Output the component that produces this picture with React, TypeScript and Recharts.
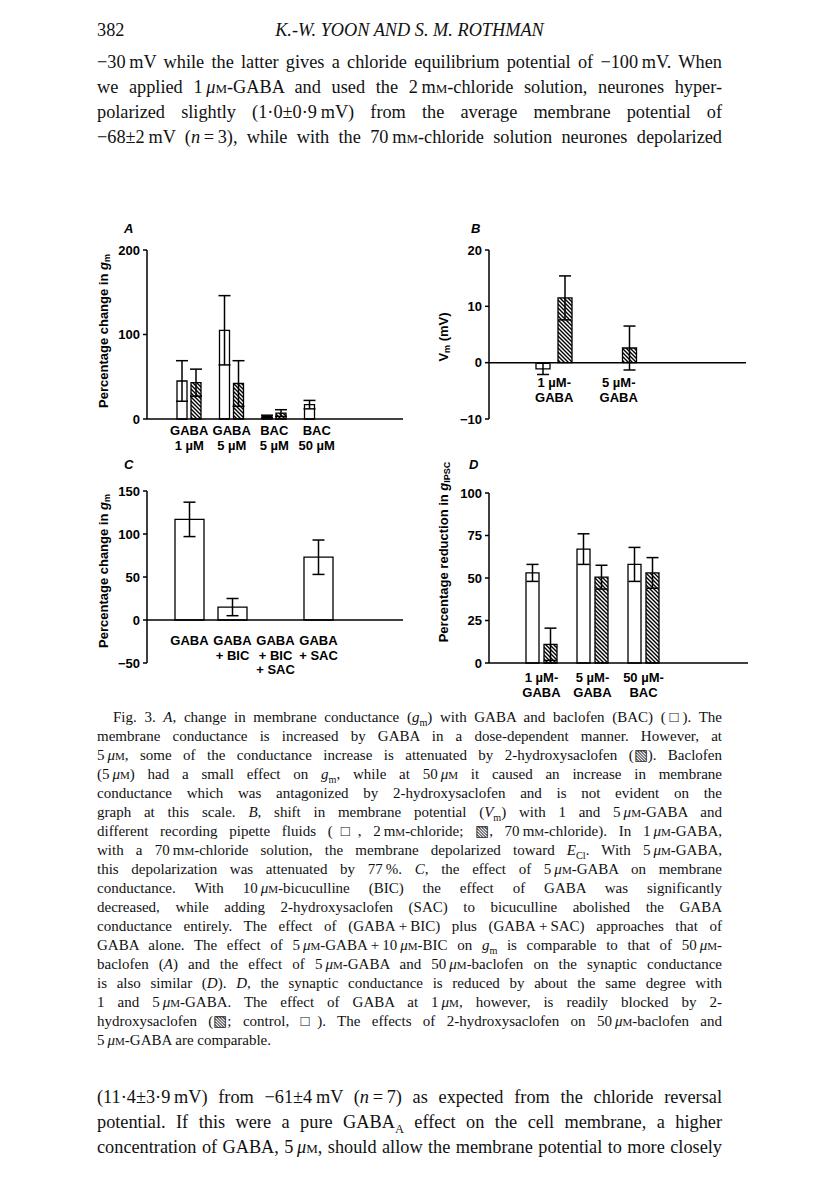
import React from 'react';
import { BarChart, Bar, XAxis, YAxis, ErrorBar, ReferenceLine } from 'recharts';

const SANS = '"Liberation Sans", Arial, sans-serif';
const SERIF = '"Liberation Serif", "Times New Roman", serif';

// Panel A – percentage change in g_m
const catsA = ['GABA\n1 µM', 'GABA\n5 µM', 'BAC\n5 µM', 'BAC\n50 µM'];
const openA = [45, 105, 3, 17];
const openErrA = [24, 41, 1.5, 5];
const hatchA = [43, 42, 7, null];
const hatchErrA = [16, 27, 4, null];
const ticksA = [0, 100, 200];

// Panel B – shift in Vm (mV)
const catsB = ['1 µM-\nGABA', '5 µM-\nGABA'];
const openB = [-1.1, 0];
const openErrB = [1, 1];
const hatchB = [11.5, 2.6];
const hatchErrB = [3.9, 3.9];
const ticksB = [-10, 0, 10, 20];

// Panel C – percentage change in g_m, blockers
const catsC = ['GABA', 'GABA\n+ BIC', 'GABA\n+ BIC\n+ SAC', 'GABA\n+ SAC'];
const openC = [117, 15, 0, 73];
const openErrC = [20, 10, 2, 20];
const ticksC = [-50, 0, 50, 100, 150];

// Panel D – percentage reduction in g_IPSC
const catsD = ['1 µM-\nGABA', '5 µM-\nGABA', '50 µM-\nBAC'];
const openD = [53, 67, 58];
const openErrD = [5, 9, 10];
const hatchD = [11, 50.5, 53];
const hatchErrD = [9.5, 7, 9];
const ticksD = [0, 25, 50, 75, 100];

const toRows = (cats: string[], open: number[], openErr: number[], hatch?: (number | null)[], hatchErr?: (number | null)[]) =>
  cats.map((name, i) => ({
    name,
    open: open[i],
    openErr: openErr[i],
    hatch: hatch ? hatch[i] : null,
    hatchErr: hatchErr ? hatchErr[i] : null,
  }));

const dataA = toRows(catsA, openA, openErrA, hatchA, hatchErrA);
const dataB = toRows(catsB, openB, openErrB, hatchB, hatchErrB);
const dataC = toRows(catsC, openC, openErrC);
const dataD = toRows(catsD, openD, openErrD, hatchD, hatchErrD);

// page text
const bodyTop = [
  '−30`mV while the latter gives a chloride equilibrium potential of −100`mV. When',
  'we applied 1`µM-GABA and used the 2`mM-chloride solution, neurones hyper-',
  'polarized slightly (1·0±0·9`mV) from the average membrane potential of',
  '−68±2`mV (*n*`=`3), while with the 70`mM-chloride solution neurones depolarized',
];

const caption = [
  'Fig. 3. *A*, change in membrane conductance (*g*_{m}) with GABA and baclofen (BAC) (□). The',
  'membrane conductance is increased by GABA in a dose-dependent manner. However, at',
  '5`µM, some of the conductance increase is attenuated by 2-hydroxysaclofen (▧). Baclofen',
  '(5`µM) had a small effect on *g*_{m}, while at 50`µM it caused an increase in membrane',
  'conductance which was antagonized by 2-hydroxysaclofen and is not evident on the',
  'graph at this scale. *B*, shift in membrane potential (*V*_{m}) with 1 and 5`µM-GABA and',
  'different recording pipette fluids (□, 2`mM-chloride; ▧, 70`mM-chloride). In 1`µM-GABA,',
  'with a 70`mM-chloride solution, the membrane depolarized toward *E*_{Cl}. With 5`µM-GABA,',
  'this depolarization was attenuated by 77`%. *C*, the effect of 5`µM-GABA on membrane',
  'conductance. With 10`µM-bicuculline (BIC) the effect of GABA was significantly',
  'decreased, while adding 2-hydroxysaclofen (SAC) to bicuculline abolished the GABA',
  'conductance entirely. The effect of (GABA`+`BIC) plus (GABA`+`SAC) approaches that of',
  'GABA alone. The effect of 5`µM-GABA`+`10`µM-BIC on *g*_{m} is comparable to that of 50`µM-',
  'baclofen (*A*) and the effect of 5`µM-GABA and 50`µM-baclofen on the synaptic conductance',
  'is also similar (*D*). *D*, the synaptic conductance is reduced by about the same degree with',
  '1 and 5`µM-GABA. The effect of GABA at 1`µM, however, is readily blocked by 2-',
  'hydroxysaclofen (▧; control, □). The effects of 2-hydroxysaclofen on 50`µM-baclofen and',
  '5`µM-GABA are comparable.',
];

const bodyBottom = [
  '(11·4±3·9`mV) from −61±4`mV (*n*`=`7) as expected from the chloride reversal',
  'potential. If this were a pure GABA_{A} effect on the cell membrane, a higher',
  'concentration of GABA, 5`µM, should allow the membrane potential to more closely',
];

const sc = { fontVariant: 'small-caps' as const };

const rich = (s: string) =>
  s.split(/(\*[^*]+\*|_\{[^}]+\}|µM|mM|`)/g).map((p, i) => {
    if (!p) return null;
    if (p === '`') return '\u2009';
    if (p === 'µM') return <span key={i}><i>μ</i><span style={sc}>m</span></span>;
    if (p === 'mM') return <span key={i}>m<span style={sc}>m</span></span>;
    if (p.startsWith('*')) return <i key={i}>{p.slice(1, -1)}</i>;
    if (p.startsWith('_{')) return <sub key={i} style={{ fontSize: '0.68em', lineHeight: 0 }}>{p.slice(2, -1)}</sub>;
    return <React.Fragment key={i}>{p}</React.Fragment>;
  });

const Line = ({ text, top, size, lh, justify = true, indent = 0 }: any) => (
  <div
    style={{
      position: 'absolute', left: 97 + indent, top, width: 625 - indent, height: lh,
      lineHeight: `${lh}px`, fontSize: size, fontFamily: SERIF, color: '#111',
      whiteSpace: 'nowrap', textAlign: justify ? 'justify' : 'left',
      textAlignLast: justify ? 'justify' : 'left',
    }}
  >
    {rich(text)}
  </div>
);

const CatTick = ({ x, y, payload, offset }: any) => {
  const lines = String(payload.value).split('\n');
  return (
    <text x={x} y={y + offset} textAnchor="middle" fill="#000" fontSize={13} fontWeight="bold" fontFamily={SANS}>
      {lines.map((l, i) => (
        <tspan key={i} x={x} dy={i === 0 ? 0 : 14.5}>{l}</tspan>
      ))}
    </text>
  );
};

const yTick = { fill: '#000', fontSize: 13, fontWeight: 'bold', fontFamily: SANS };
const fmt = (v: number) => (v < 0 ? `−${-v}` : `${v}`);

const title = (x: number, y: number, parts: React.ReactNode) => () => (
  <text
    x={x} y={y} transform={`rotate(-90 ${x} ${y})`} textAnchor="middle" dominantBaseline="central"
    fill="#000" fontSize={13} fontWeight="bold" fontFamily={SANS}
  >
    {parts}
  </text>
);

const gmTitle = (
  <>
    Percentage change in <tspan fontStyle="italic">g</tspan>
    <tspan dy={4} fontSize={9}>m</tspan>
  </>
);

const Panel = ({ data, left, top, width, height, marginTop = 20, marginLeft, marginRight, domain, ticks, tickOffset, zeroLine, barSize, barGap, padL, padR, label, hatched }: any) => (
  <div style={{ position: 'absolute', left, top }}>
    <BarChart
      width={width}
      height={height}
      data={data}
      margin={{ top: marginTop, right: marginRight, bottom: 5, left: marginLeft }}
      barSize={barSize}
      barGap={barGap}
    >
      <XAxis
        dataKey="name"
        interval={0}
        height={41}
        padding={{ left: padL, right: padR }}
        axisLine={zeroLine ? false : { stroke: '#000', strokeWidth: 1.5 }}
        tickLine={false}
        tickSize={0}
        tickMargin={0}
        tick={(p: any) => <CatTick {...p} offset={tickOffset} />}
      />
      <YAxis
        type="number"
        width={60}
        domain={domain}
        ticks={ticks}
        interval={0}
        tickSize={4}
        tickMargin={3}
        tickFormatter={fmt}
        axisLine={{ stroke: '#000', strokeWidth: 1.5 }}
        tickLine={{ stroke: '#000', strokeWidth: 1.5 }}
        tick={yTick}
        label={label}
      />
      {zeroLine && <ReferenceLine y={0} stroke="#000" strokeWidth={1.5} />}
      <Bar dataKey="open" fill="#fff" stroke="#000" strokeWidth={1.3} isAnimationActive={false}>
        <ErrorBar dataKey="openErr" direction="y" width={6} stroke="#000" strokeWidth={1.5} />
      </Bar>
      {hatched && (
        <Bar dataKey="hatch" fill="url(#hatch)" stroke="#000" strokeWidth={1.3} isAnimationActive={false}>
          <ErrorBar dataKey="hatchErr" direction="y" width={6} stroke="#000" strokeWidth={1.5} />
        </Bar>
      )}
    </BarChart>
  </div>
);

const letter = (ch: string, left: number, top: number) => (
  <div style={{ position: 'absolute', left, top, fontFamily: SANS, fontSize: 13, fontWeight: 'bold', fontStyle: 'italic', lineHeight: '16px' }}>
    {ch}
  </div>
);

export default function App() {
  return (
    <div style={{ position: 'absolute', left: 0, top: 0, width: 816, height: 1183, background: '#fff', overflow: 'hidden' }}>
      <svg width={0} height={0} style={{ position: 'absolute' }}>
        <defs>
          <pattern id="hatch" patternUnits="userSpaceOnUse" width={4} height={4}>
            <rect width={4} height={4} fill="#fff" />
            <path d="M-1,-1 L5,5 M-1,3 L1,5 M3,-1 L5,1" stroke="#000" strokeWidth={1.4} />
          </pattern>
        </defs>
      </svg>

      <div style={{ position: 'absolute', left: 97, top: 18, fontFamily: SERIF, fontSize: 18.3, lineHeight: '25px', color: '#111' }}>382</div>
      <div style={{ position: 'absolute', left: 97, top: 18, width: 625, textAlign: 'center', fontFamily: SERIF, fontSize: 18.3, fontStyle: 'italic', lineHeight: '25px', color: '#111' }}>
        K.-W. YOON AND S. M. ROTHMAN
      </div>

      {bodyTop.map((t, i) => (
        <Line key={`t${i}`} text={t} top={49.5 + i * 25} size={18.3} lh={25} />
      ))}

      {letter('A', 124, 221)}
      {letter('B', 471, 221)}
      {letter('C', 124, 457)}
      {letter('D', 469, 457)}

      <Panel
        data={dataA} left={40} top={230} width={380} height={235} marginLeft={47} marginRight={17}
        domain={[0, 200]} ticks={ticksA} tickOffset={16} barSize={10} barGap={4} padL={21} padR={65}
        label={title(63, 101, gmTitle)} hatched
      />
      <Panel
        data={dataB} left={380} top={230} width={380} height={235} marginLeft={49} marginRight={14}
        domain={[-10, 20]} ticks={ticksB} tickOffset={-32} zeroLine barSize={14} barGap={8} padL={33} padR={95}
        label={title(63, 107, (
          <>
            V<tspan dy={4} fontSize={9}>m</tspan>
            <tspan dy={-4}> (mV)</tspan>
          </>
        ))}
        hatched
      />
      <Panel
        data={dataC} left={40} top={471} width={380} height={238} marginLeft={47} marginRight={17}
        domain={[-50, 150]} ticks={ticksC} tickOffset={-18} zeroLine barSize={29} barGap={4} padL={21} padR={63}
        label={title(63, 100, gmTitle)}
      />
      <Panel
        data={dataD} left={380} top={443} width={380} height={266} marginTop={50} marginLeft={49} marginRight={12}
        domain={[0, 100]} ticks={ticksD} tickOffset={19} barSize={13} barGap={5} padL={27} padR={79}
        label={title(63, 109, (
          <>
            Percentage reduction in <tspan fontStyle="italic">g</tspan>
            <tspan dy={4} fontSize={9}>IPSC</tspan>
          </>
        ))}
        hatched
      />

      {caption.map((t, i) => (
        <Line key={`c${i}`} text={t} top={707.5 + i * 19} size={15} lh={19} indent={i === 0 ? 16 : 0} justify={i !== caption.length - 1} />
      ))}

      {bodyBottom.map((t, i) => (
        <Line key={`b${i}`} text={t} top={1084.5 + i * 25} size={18.3} lh={25} />
      ))}
    </div>
  );
}
